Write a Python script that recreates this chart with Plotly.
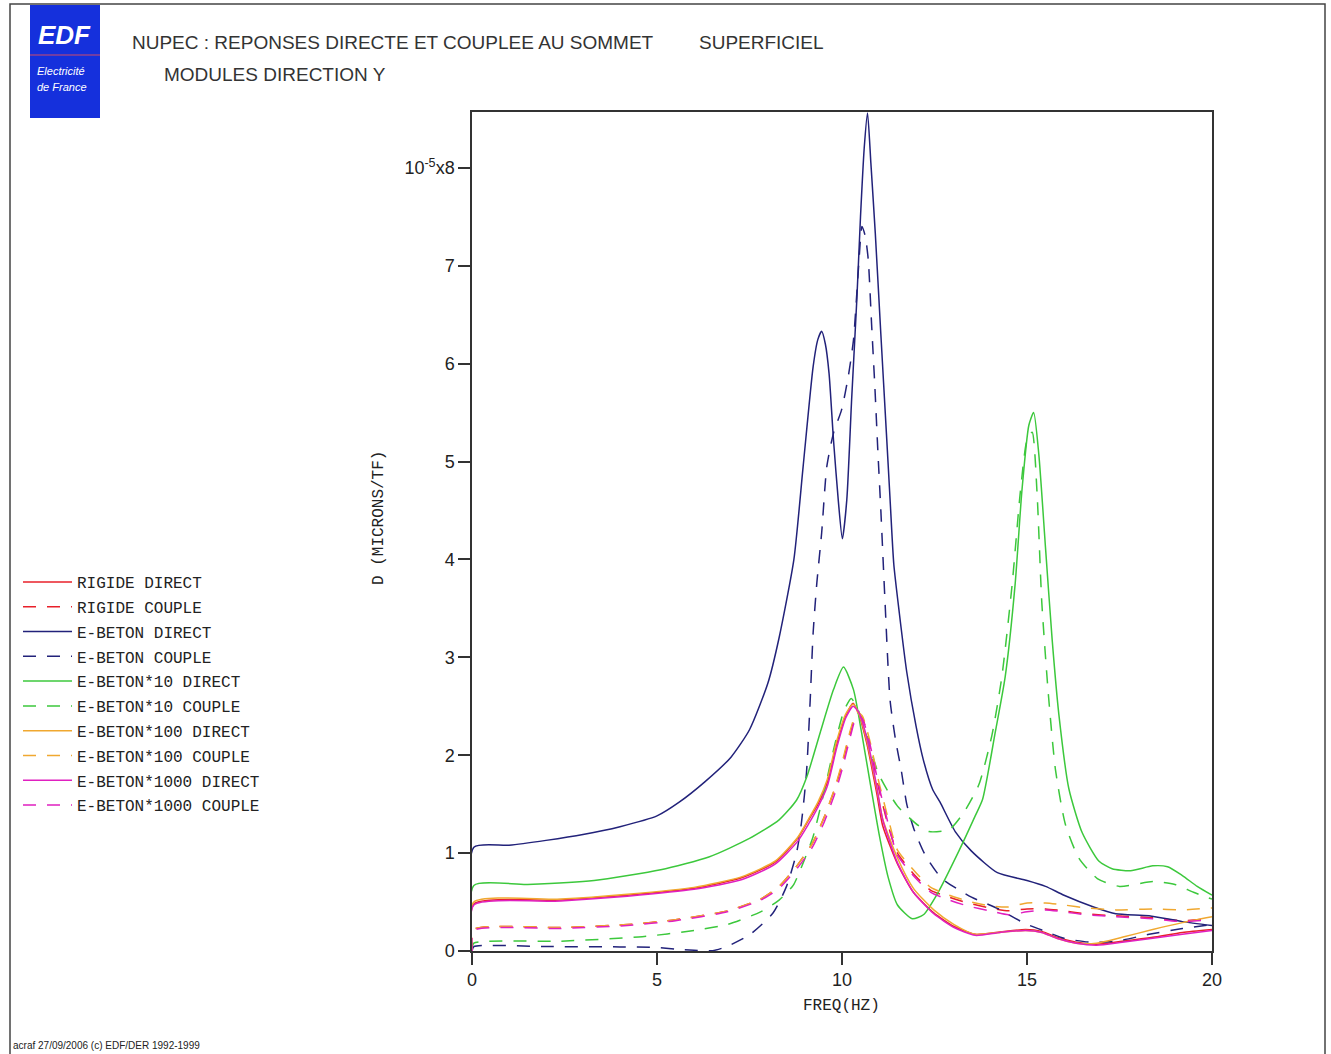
import plotly.graph_objects as go

# ---------------- data (values in units of 1e-5 microns/TF) ----------------
freq_direct_low = [0, 0.05, 2.4, 4.2, 6.0, 7.3, 8.2, 8.8, 9.1, 9.35, 9.6, 9.86, 10.1, 10.3, 10.45,
                   10.67, 10.94, 11.1, 11.5, 11.93, 12.48, 13.03, 13.6, 14.27, 14.96, 15.4, 15.8,
                   16.33, 16.88, 17.57, 18.4, 19.2, 20]
rigide_direct = [0, 0.48, 0.52, 0.57, 0.64, 0.75, 0.91, 1.15, 1.34, 1.5, 1.72, 2.12, 2.4, 2.53, 2.42,
                 2.12, 1.61, 1.28, 0.89, 0.6, 0.39, 0.25, 0.17, 0.195, 0.22, 0.2, 0.14,
                 0.09, 0.07, 0.1, 0.14, 0.19, 0.22]
beton100_direct = [0, 0.5, 0.53, 0.58, 0.65, 0.76, 0.92, 1.16, 1.35, 1.52, 1.75, 2.15, 2.42, 2.52, 2.43,
                   2.15, 1.66, 1.35, 0.95, 0.64, 0.42, 0.27, 0.17, 0.19, 0.21, 0.19, 0.13,
                   0.08, 0.08, 0.14, 0.22, 0.29, 0.35]
beton1000_direct = [0, 0.47, 0.51, 0.56, 0.63, 0.73, 0.89, 1.12, 1.3, 1.47, 1.68, 2.08, 2.38, 2.5, 2.44,
                    2.18, 1.68, 1.34, 0.9, 0.6, 0.38, 0.24, 0.16, 0.19, 0.21, 0.19, 0.13,
                    0.08, 0.06, 0.09, 0.13, 0.17, 0.21]

freq_couple_low = [0, 0.05, 2.4, 4.2, 5.5, 6.9, 7.8, 8.3, 8.8, 9.2, 9.5, 9.8, 10.0, 10.2, 10.4, 10.55,
                   10.75, 11.0, 11.25, 11.5, 12.0, 12.4, 12.9, 13.4, 14.0, 14.5, 15.0, 15.5, 16.0,
                   16.6, 17.4, 18.4, 19.2, 20]
rigide_couple = [0, 0.22, 0.24, 0.27, 0.32, 0.41, 0.53, 0.66, 0.88, 1.1, 1.35, 1.65, 1.9, 2.2, 2.42, 2.38,
                 2.1, 1.65, 1.28, 1.0, 0.76, 0.62, 0.55, 0.49, 0.44, 0.41, 0.43, 0.43, 0.41,
                 0.38, 0.36, 0.34, 0.31, 0.33]
beton100_couple = [0, 0.22, 0.24, 0.27, 0.32, 0.41, 0.53, 0.66, 0.88, 1.1, 1.35, 1.66, 1.92, 2.22, 2.44, 2.4,
                   2.15, 1.72, 1.35, 1.03, 0.8, 0.65, 0.57, 0.51, 0.46, 0.45, 0.49, 0.49, 0.47,
                   0.44, 0.42, 0.43, 0.42, 0.44]
beton1000_couple = [0, 0.21, 0.23, 0.26, 0.31, 0.40, 0.52, 0.64, 0.85, 1.06, 1.3, 1.6, 1.85, 2.15, 2.4, 2.37,
                    2.12, 1.68, 1.3, 0.98, 0.74, 0.6, 0.52, 0.46, 0.41, 0.37, 0.40, 0.42, 0.40,
                    0.37, 0.35, 0.33, 0.30, 0.32]

freq_beton_direct = [0, 0.05, 1, 2, 3, 4, 5, 5.6, 6.3, 7.0, 7.5, 8.0, 8.3, 8.7, 8.95, 9.22, 9.35, 9.45,
                     9.55, 9.65, 9.77, 9.9, 10.01, 10.13, 10.26, 10.4, 10.5, 10.6, 10.69, 10.78, 10.9,
                     11.05, 11.2, 11.3, 11.4, 11.55, 11.75, 12.0, 12.2, 12.45, 12.65, 13.06, 13.5,
                     14.2, 15.0, 15.5, 16.0, 16.8, 17.4, 18.3, 19.2, 20]
beton_direct = [0, 1.06, 1.08, 1.13, 1.19, 1.27, 1.38, 1.52, 1.73, 1.98, 2.26, 2.74, 3.2, 4.0, 4.95, 5.97,
                6.25, 6.33, 6.2, 5.9, 5.22, 4.6, 4.21, 4.61, 5.63, 6.65, 7.5, 8.2, 8.56, 8.05, 7.33,
                6.3, 5.29, 4.61, 3.95, 3.45, 2.85, 2.3, 1.95, 1.65, 1.52, 1.22, 1.02,
                0.8, 0.72, 0.66, 0.57, 0.45, 0.38, 0.36, 0.30, 0.26]

freq_beton_couple = [0, 0.05, 2, 4, 5, 5.5, 6.0, 6.5, 6.88, 7.5, 8.14, 8.5, 8.77, 8.9, 9.04, 9.14, 9.22,
                     9.32, 9.45, 9.59, 9.77, 9.99, 10.17, 10.31, 10.45, 10.54, 10.63, 10.71, 10.8,
                     10.89, 10.97, 11.05, 11.16, 11.3, 11.45, 11.6, 11.75, 11.94, 12.25, 12.7, 13.5,
                     14.2, 14.95, 15.5, 16.0, 16.7, 17.4, 18.3, 19.2, 20]
beton_couple = [0, 0.045, 0.045, 0.042, 0.035, 0.02, 0.008, 0.003, 0.045, 0.165, 0.39, 0.66, 1.0, 1.3, 1.82,
                2.56, 3.25, 3.76, 4.27, 4.95, 5.29, 5.53, 5.87, 6.24, 7.0, 7.4, 7.3, 7.06, 6.4,
                5.75, 5.1, 4.5, 3.59, 2.56, 2.15, 1.85, 1.5, 1.25, 0.98, 0.74, 0.55,
                0.435, 0.28, 0.2, 0.13, 0.09, 0.1, 0.17, 0.23, 0.27]

freq_beton10_direct = [0, 0.05, 1.5, 3.3, 5.1, 6.4, 7.5, 8.3, 8.77, 9.05, 9.41, 9.77, 10.04, 10.31, 10.53,
                       10.76, 11.0, 11.25, 11.5, 11.9, 12.2, 12.6, 13.17, 13.6, 13.8, 14.14, 14.41,
                       14.68, 14.86, 15.05, 15.18, 15.32, 15.5, 15.68, 15.86, 16.13, 16.49, 16.94,
                       17.3, 17.8, 18.4, 18.8, 19.2, 19.6, 20]
beton10_direct = [0, 0.67, 0.68, 0.72, 0.83, 0.96, 1.15, 1.34, 1.54, 1.78, 2.23, 2.67, 2.9, 2.67, 2.23,
                  1.72, 1.2, 0.75, 0.47, 0.33, 0.37, 0.6, 1.03, 1.38, 1.55, 2.23, 2.8,
                  3.75, 4.69, 5.37, 5.5, 5.07, 4.12, 3.18, 2.42, 1.66, 1.21, 0.92,
                  0.84, 0.82, 0.87, 0.86, 0.77, 0.66, 0.57]

freq_beton10_couple = [0, 0.05, 2.4, 4.6, 6.0, 6.9, 7.8, 8.3, 8.68, 8.95, 9.22, 9.5, 9.8, 10.05, 10.25,
                       10.45, 10.7, 11.0, 11.5, 12.07, 12.35, 12.9, 13.3, 13.7, 14.05, 14.32, 14.6,
                       14.82, 15.0, 15.14, 15.27, 15.4, 15.58, 15.77, 16.04, 16.4, 16.9, 17.5, 18.4,
                       19.0, 19.5, 20]
beton10_couple = [0, 0.08, 0.10, 0.146, 0.21, 0.27, 0.40, 0.52, 0.67, 0.9, 1.17, 1.6, 2.1, 2.45, 2.58,
                  2.45, 2.15, 1.8, 1.48, 1.28, 1.22, 1.24, 1.42, 1.7, 2.2, 2.8, 3.75,
                  4.69, 5.22, 5.3, 4.69, 3.56, 2.61, 1.85, 1.29, 0.95, 0.74, 0.66, 0.71,
                  0.68, 0.6, 0.53]

y_tick_values = [0, 1, 2, 3, 4, 5, 6, 7, 8]
y_tick_labels = ["0", "1", "2", "3", "4", "5", "6", "7", "10<sup>-5</sup>x8"]
x_tick_values = [0, 5, 10, 15, 20]

series = [
    ("RIGIDE DIRECT", freq_direct_low, rigide_direct, "#e8202a", "solid"),
    ("RIGIDE COUPLE", freq_couple_low, rigide_couple, "#e8202a", "13px,11px"),
    ("E-BETON DIRECT", freq_beton_direct, beton_direct, "#22227a", "solid"),
    ("E-BETON COUPLE", freq_beton_couple, beton_couple, "#22227a", "13px,11px"),
    ("E-BETON*10 DIRECT", freq_beton10_direct, beton10_direct, "#3cc83c", "solid"),
    ("E-BETON*10 COUPLE", freq_beton10_couple, beton10_couple, "#3cc83c", "13px,11px"),
    ("E-BETON*100 DIRECT", freq_direct_low, beton100_direct, "#f0a830", "solid"),
    ("E-BETON*100 COUPLE", freq_couple_low, beton100_couple, "#f0a830", "13px,11px"),
    ("E-BETON*1000 DIRECT", freq_direct_low, beton1000_direct, "#e020c0", "solid"),
    ("E-BETON*1000 COUPLE", freq_couple_low, beton1000_couple, "#e020c0", "13px,11px"),
]

# ---------------- layout geometry ----------------
W, H = 1331, 1054
L, R, T, B = 472, 1212, 112, 951


def px(x):
    return (x - L) / (R - L)


def py(y):
    return (B - y) / (B - T)


fig = go.Figure()
for name, fx, fy, color, dash in series:
    fig.add_trace(go.Scatter(
        x=fx, y=fy, mode="lines", name=name, legendgroup=name,
        line=dict(color=color, width=1.5, dash=dash, shape="spline", smoothing=0.6),
    ))

mono = "Liberation Mono, DejaVu Sans Mono, monospace"
sans = "Liberation Sans, Arial, sans-serif"

axis_common = dict(showline=True, linecolor="#333333", linewidth=1.5, mirror=True,
                   ticks="outside", ticklen=12, tickwidth=1.5, tickcolor="#333333",
                   showgrid=False, zeroline=False,
                   tickfont=dict(family=sans, size=18, color="#222222"))

fig.update_layout(
    width=W, height=H,
    margin=dict(l=L, r=W - R, t=T, b=H - B, autoexpand=False),
    paper_bgcolor="white", plot_bgcolor="white",
    xaxis=dict(range=[0, 20], tickvals=x_tick_values, **axis_common),
    yaxis=dict(range=[0, 8.57], tickvals=y_tick_values, ticktext=y_tick_labels, **axis_common),
    showlegend=True,
    legend=dict(x=18 / W, xref="container", y=1 - 565 / H, yref="container",
                xanchor="left", yanchor="top", bgcolor="rgba(0,0,0,0)",
                font=dict(family=mono, size=16, color="#222222"),
                tracegroupgap=1, itemwidth=49),
)

annotations = [
    dict(text="NUPEC : REPONSES DIRECTE ET COUPLEE AU SOMMET", x=px(130), y=py(42),
         xanchor="left", yanchor="middle", font=dict(family=sans, size=19, color="#333333")),
    dict(text="SUPERFICIEL", x=px(697), y=py(42),
         xanchor="left", yanchor="middle", font=dict(family=sans, size=19, color="#333333")),
    dict(text="MODULES DIRECTION Y", x=px(162), y=py(74),
         xanchor="left", yanchor="middle", font=dict(family=sans, size=19, color="#333333")),
    dict(text="D (MICRONS/TF)", x=px(379), y=py(518), textangle=-90,
         xanchor="center", yanchor="middle", font=dict(family=mono, size=16, color="#222222")),
    dict(text="FREQ(HZ)", x=px(841), y=py(1006),
         xanchor="center", yanchor="middle", font=dict(family=mono, size=16, color="#222222")),
    dict(text="acraf 27/09/2006 (c) EDF/DER 1992-1999", x=px(11), y=py(1045),
         xanchor="left", yanchor="middle", font=dict(family=sans, size=10, color="#222222")),
    dict(text="<b><i>EDF</i></b>", x=px(64), y=py(35),
         xanchor="center", yanchor="middle", font=dict(family=sans, size=26, color="white")),
    dict(text="<i>Electricité</i>", x=px(35), y=py(71),
         xanchor="left", yanchor="middle", font=dict(family=sans, size=11, color="white")),
    dict(text="<i>de France</i>", x=px(35), y=py(87),
         xanchor="left", yanchor="middle", font=dict(family=sans, size=11, color="white")),
]
for a in annotations:
    a.update(xref="paper", yref="paper", showarrow=False)
fig.update_layout(annotations=annotations)

shapes = [
    # outer frame of the page
    dict(type="rect", x0=px(10), x1=px(1325), y0=py(1070), y1=py(4),
         line=dict(color="#444444", width=1.5), fillcolor="rgba(0,0,0,0)"),
    # EDF logo
    dict(type="rect", x0=px(30), x1=px(100), y0=py(118), y1=py(5),
         line=dict(width=0), fillcolor="#1530dc", layer="below"),
    dict(type="line", x0=px(30), x1=px(100), y0=py(55), y1=py(55),
         line=dict(color="#d04a6a", width=1)),
]
for s in shapes:
    s.update(xref="paper", yref="paper")
fig.update_layout(shapes=shapes)

fig.write_html("out.html", config={"displayModeBar": False},
               post_script="document.body.style.margin='0';")
